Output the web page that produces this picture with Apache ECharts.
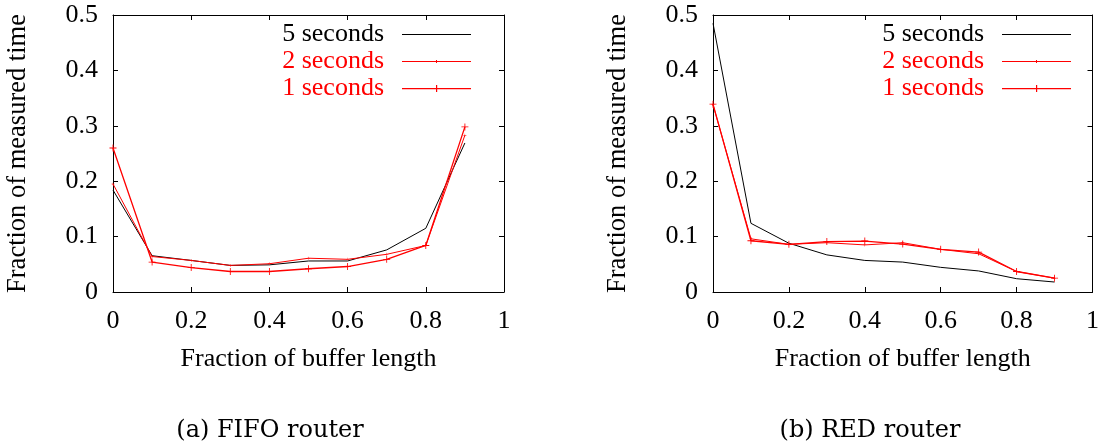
<!DOCTYPE html>
<html>
<head>
<meta charset="utf-8">
<script src="https://cdn.jsdelivr.net/npm/echarts@6/dist/echarts.min.js"></script>
<style>html,body{margin:0;padding:0;background:#fff}#c{width:1102px;height:446px}</style>
</head>
<body>
<div id="c"></div>
<script>
// ---- data ----
const xValues = [0, 0.1, 0.2, 0.3, 0.4, 0.5, 0.6, 0.7, 0.8, 0.9];
const seriesNames = ['5 seconds', '2 seconds', '1 seconds'];
const fifo5 = [0.184, 0.0655, 0.057, 0.048, 0.049, 0.056, 0.056, 0.076, 0.115, 0.269];
const fifo2 = [0.195, 0.064, 0.057, 0.048, 0.051, 0.061, 0.059, 0.068, 0.084, 0.283];
const fifo1 = [0.260, 0.054, 0.044, 0.037, 0.037, 0.042, 0.046, 0.059, 0.084, 0.298];
const red5 = [0.485, 0.124, 0.088, 0.067, 0.057, 0.054, 0.0445, 0.038, 0.024, 0.018];
const red2 = [0.338, 0.096, 0.086, 0.089, 0.085, 0.089, 0.077, 0.069, 0.037, 0.025];
const red1 = [0.339, 0.0925, 0.086, 0.091, 0.092, 0.0865, 0.077, 0.072, 0.037, 0.025];
const xAxisTitle = 'Fraction of buffer length';
const yAxisTitle = 'Fraction of measured time';
const captions = ['(a) FIFO router', '(b) RED router'];

// ---- chart ----
const FONT = 'Liberation Serif';
const plus = 'path://M4.4,0 H5.6 V4.4 H10 V5.6 H5.6 V10 H4.4 V5.6 H0 V4.4 H4.4 Z';
// legend sample icons (line with optional centre tick), aspect kept by legend
const iconLine = 'path://M0,0 H69 V1 H0 Z';
const iconSmall = 'path://M0,1 H69 V2 H0 Z M34,0 H35 V3 H34 Z';
const iconPlus = 'path://M0,3 H69 V4.2 H0 Z M34,0 H35.2 V7 H34 Z';
const pair = (ys) => xValues.map((x, i) => [x, ys[i]]);

function mainX(gi) {
  return {
    gridIndex: gi, type: 'value', min: 0, max: 1, interval: 0.2, position: 'bottom',
    name: xAxisTitle, nameLocation: 'middle', nameGap: 54,
    nameTextStyle: { fontFamily: FONT, fontSize: 26, color: '#000' },
    axisLine: { show: true, onZero: false, lineStyle: { color: '#000', width: 1 } },
    axisTick: { show: true, inside: true, length: 5, lineStyle: { color: '#000' } },
    axisLabel: { fontFamily: FONT, fontSize: 26, color: '#000', margin: 16,
      formatter: v => String(Math.round(v * 10) / 10) },
    splitLine: { show: false }
  };
}
function mirrorX(gi) {
  return {
    gridIndex: gi, type: 'value', min: 0, max: 1, interval: 0.2, position: 'top',
    axisLine: { show: true, onZero: false, lineStyle: { color: '#000', width: 1 } },
    axisTick: { show: true, inside: true, length: 5, lineStyle: { color: '#000' } },
    axisLabel: { show: false }, splitLine: { show: false }
  };
}
function mainY(gi) {
  return {
    gridIndex: gi, type: 'value', min: 0, max: 0.5, interval: 0.1, position: 'left',
    name: yAxisTitle, nameLocation: 'middle', nameGap: 81,
    nameTextStyle: { fontFamily: FONT, fontSize: 26.5, color: '#000' },
    axisLine: { show: true, onZero: false, lineStyle: { color: '#000', width: 1 } },
    axisTick: { show: true, inside: true, length: 5, lineStyle: { color: '#000' } },
    axisLabel: { fontFamily: FONT, fontSize: 26, color: '#000', margin: 15,
      formatter: v => String(Math.round(v * 10) / 10) },
    splitLine: { show: false }
  };
}
function mirrorY(gi) {
  return {
    gridIndex: gi, type: 'value', min: 0, max: 0.5, interval: 0.1, position: 'right',
    axisLine: { show: true, onZero: false, lineStyle: { color: '#000', width: 1 } },
    axisTick: { show: true, inside: true, length: 5, lineStyle: { color: '#000' } },
    axisLabel: { show: false }, splitLine: { show: false }
  };
}
function seriesFor(gi, d5, d2, d1) {
  const xi = gi * 2, yi = gi * 2;
  return [
    { name: seriesNames[0], type: 'line', xAxisIndex: xi, yAxisIndex: yi, data: pair(d5),
      symbol: 'none', color: '#000', lineStyle: { color: '#000', width: 1 }, z: 3 },
    { name: seriesNames[1], type: 'line', xAxisIndex: xi, yAxisIndex: yi, data: pair(d2),
      symbol: plus, symbolSize: 3, color: '#ff0000', itemStyle: { color: '#ff0000' },
      lineStyle: { color: '#ff0000', width: 1 }, z: 4 },
    { name: seriesNames[2], type: 'line', xAxisIndex: xi, yAxisIndex: yi, data: pair(d1),
      symbol: plus, symbolSize: 7, color: '#ff0000', itemStyle: { color: '#ff0000' },
      lineStyle: { color: '#ff0000', width: 1.3 }, z: 5 }
  ];
}
function legendFor(right) {
  return {
    orient: 'vertical', align: 'right', right: right, top: 21, padding: 0,
    itemWidth: 69, itemHeight: 12, itemGap: 0, selectedMode: false, symbolKeepAspect: true,
    textStyle: { fontFamily: FONT, fontSize: 26, lineHeight: 27, padding: [0, 13, 0, 0] },
    data: [
      { name: seriesNames[0], icon: iconLine, itemStyle: { color: '#000' }, textStyle: { color: '#000' } },
      { name: seriesNames[1], icon: iconSmall, itemStyle: { color: '#ff0000' }, textStyle: { color: '#ff0000' } },
      { name: seriesNames[2], icon: iconPlus, itemStyle: { color: '#ff0000' }, textStyle: { color: '#ff0000' } }
    ]
  };
}

const chart = echarts.init(document.getElementById('c'), null, { renderer: 'canvas' });
chart.setOption({
  animation: false,
  backgroundColor: '#fff',
  grid: [
    { left: 113, top: 15, width: 391, height: 277 },
    { left: 713, top: 15, width: 391, height: 277 }
  ],
  xAxis: [mainX(0), mirrorX(0), mainX(1), mirrorX(1)],
  yAxis: [mainY(0), mirrorY(0), mainY(1), mirrorY(1)],
  legend: [legendFor(631), legendFor(31)],
  series: [].concat(seriesFor(0, fifo5, fifo2, fifo1), seriesFor(1, red5, red2, red1)),
  graphic: [
    { type: 'text', x: 270, y: 431, style: { text: captions[0], fontFamily: 'DejaVu Serif', fontSize: 24, fill: '#000', align: 'center', verticalAlign: 'middle' } },
    { type: 'text', x: 870, y: 431, style: { text: captions[1], fontFamily: 'DejaVu Serif', fontSize: 24, fill: '#000', align: 'center', verticalAlign: 'middle' } }
  ]
});
</script>
</body>
</html>
